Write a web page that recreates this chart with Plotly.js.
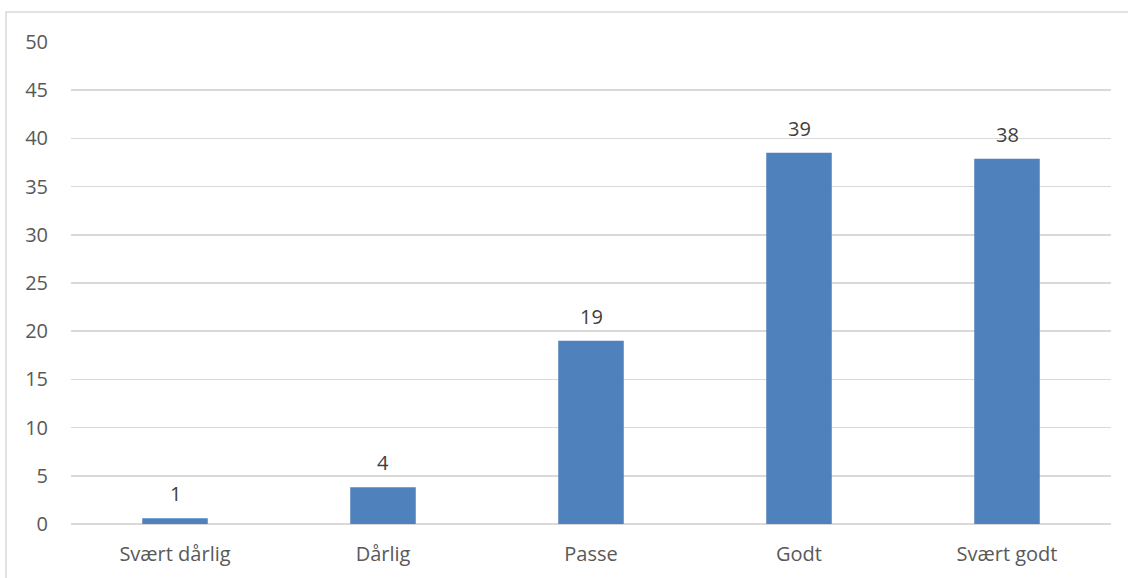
<!DOCTYPE html>
<html>
<head>
<meta charset="utf-8">
<script src="https://cdn.plot.ly/plotly-3.0.1.min.js"></script>
<style>html,body{margin:0;padding:0;background:#fff;}#chart{width:1128px;height:578px;}</style>
</head>
<body>
<div id="chart"></div>
<script>
const categories = ["Svært dårlig", "Dårlig", "Passe", "Godt", "Svært godt"];
const values = [0.6, 3.8, 19.0, 38.5, 37.9];
const labels = ["1", "4", "19", "39", "38"];
const yTicks = [0, 5, 10, 15, 20, 25, 30, 35, 40, 45, 50];

const W = 1128, H = 578;
const margin = {l: 71, r: 17, t: 42, b: 54};
const pw = W - margin.l - margin.r, ph = H - margin.t - margin.b;
const FONT = "Open Sans, sans-serif";

const trace = {
  type: "bar",
  x: categories,
  y: values,
  marker: {color: "#4f81bd"},
  width: 0.315,
  hoverinfo: "none"
};

const annotations = categories.map((c, i) => ({
  x: c, y: values[i], xref: "x", yref: "y",
  text: labels[i], showarrow: false,
  yanchor: "bottom", yshift: 9,
  font: {family: FONT, size: 20, color: "#404040"}
}));

const layout = {
  width: W, height: H,
  margin: margin,
  paper_bgcolor: "#fff", plot_bgcolor: "#fff",
  showlegend: false,
  font: {family: FONT, size: 20, color: "#595959"},
  xaxis: {
    type: "category",
    showgrid: false, zeroline: false,
    showline: false,
    ticks: "", ticklabelstandoff: 16,
    tickfont: {family: FONT, size: 20, color: "#595959"},
    range: [-0.5, 4.5]
  },
  yaxis: {
    range: [0, 50],
    tickvals: yTicks,
    ticktext: yTicks.map(String),
    showgrid: true, gridcolor: "#d9d9d9", gridwidth: 1.5,
    zeroline: true, zerolinecolor: "#d9d9d9", zerolinewidth: 1.5,
    showline: false, ticks: "", ticklabelstandoff: 22,
    tickfont: {family: FONT, size: 20, color: "#595959"}
  },
  annotations: annotations,
  shapes: [{
    type: "rect", xref: "paper", yref: "paper",
    x0: (6 - margin.l) / pw, x1: (W + 10 - margin.l) / pw,
    y0: -(H + 10 - margin.t - ph) / ph, y1: 1 + (margin.t - 12) / ph,
    line: {color: "#d9d9d9", width: 1.5}, fillcolor: "rgba(0,0,0,0)", layer: "below"
  }]
};

Plotly.newPlot("chart", [trace], layout, {displayModeBar: false, staticPlot: true});
</script>
</body>
</html>
